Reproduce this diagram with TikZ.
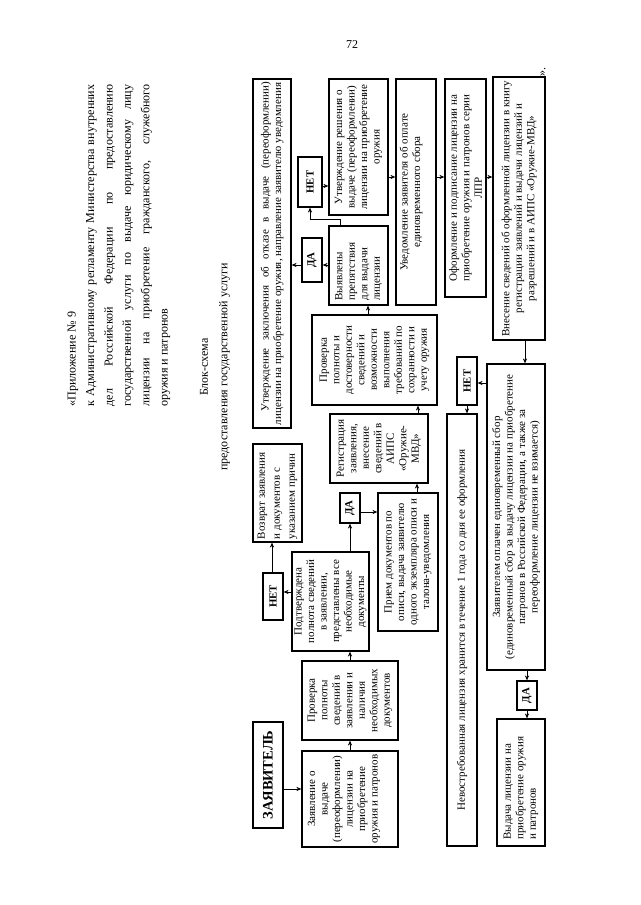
\documentclass[tikz,border=0pt]{standalone}
\usepackage{fontspec}
\setmainfont{Liberation Serif}
\usepackage{graphicx}
\usetikzlibrary{arrows.meta}
\newcommand{\rtc}[2]{\rotatebox{90}{\parbox{#1}{\centering #2}}}
\newcommand{\rtl}[2]{\rotatebox{90}{\parbox{#1}{\raggedright #2}}}
\tikzset{
  bx/.style={draw, line width=1.2pt, inner sep=0pt, font=\fontsize{11}{12.5}\selectfont},
  lbl/.style={draw, line width=1.2pt, inner sep=0pt, font=\bfseries\fontsize{10.8}{12}\selectfont},
  arr/.style={-{Stealth[length=5pt,width=4.2pt]}, line width=1pt},
}
\begin{document}
\begin{tikzpicture}[x=1pt,y=-1pt]
\useasboundingbox (0,0) rectangle (640,905);
\fill[white] (0,0) rectangle (640,905);

% page number and header
\node (pg) at (352,45) {\fontsize{12}{14}\selectfont 72};
\node[inner sep=0pt] (hdr) at (119,245.5) {\rotatebox{90}{\parbox{322pt}{\fontsize{12.1}{18.4}\selectfont
«Приложение № 9\\
к Административному регламенту Министерства внутренних\linebreak
дел Российской Федерации по предоставлению\linebreak
государственной услуги по выдаче юридическому лицу\linebreak
лицензии на приобретение гражданского, служебного\linebreak
оружия и патронов}}};
\node[inner sep=0pt] (ttl) at (215,367) {\rtc{260pt}{\fontsize{12}{19.5}\selectfont Блок-схема\\ предоставления государственной услуги}};
\node[inner sep=0pt] (qt) at (543,72) {\rotatebox{90}{\fontsize{12}{14}\selectfont ».}};

% boxes
\node[lbl, font=\bfseries\fontsize{14.5}{16}\selectfont, minimum width=30pt, minimum height=106pt] (zay) at (268,775) {\rotatebox{90}{ЗАЯВИТЕЛЬ}};
\node[bx, minimum width=96pt, minimum height=96pt] (zvl) at (350,799) {\rtc{92pt}{Заявление о\\ выдаче\\ (переоформлении)\\ лицензии на\\ приобретение\\ оружия и патронов}\hspace*{12pt}};
\node[bx, minimum width=96pt, minimum height=79pt] (pr1) at (350,700.5) {\rtc{77pt}{Проверка\\ полноты\\ сведений в\\ заявлении и\\ наличия\\ необходимых\\ документов}};
\node[bx, minimum width=77pt, minimum height=99pt] (pdt) at (330.5,601.5) {\rtc{97pt}{Подтверждена\\ полнота сведений\\ в заявлении,\\ представлены все\\ необходимые\\ документы}};
\node[lbl, minimum width=20pt, minimum height=47pt] (net1) at (273,596.5) {\rotatebox{90}{НЕТ}};
\node[bx, font=\fontsize{11}{15}\selectfont, minimum width=49pt, minimum height=98pt] (vzv) at (277.5,493) {\rtl{92pt}{Возврат заявления\\ и документов с\\ указанием причин}};
\node[lbl, minimum width=20pt, minimum height=30pt] (da1) at (350,508) {\rotatebox{90}{ДА}};
\node[bx, minimum width=60pt, minimum height=138pt] (prm) at (408,562) {\rtc{136pt}{Прием документов по\\ описи, выдача заявителю\\ одного экземпляра описи и\\ талона-уведомления}};
\node[bx, minimum width=98pt, minimum height=69pt] (reg) at (379,448.5) {\rtc{67pt}{Регистрация\\ заявления,\\ внесение\\ сведений в\\ АИПС\\ «Оружие-\\ МВД»}};
\node[bx, minimum width=125pt, minimum height=90pt] (pr2) at (374.5,360) {\rtc{88pt}{Проверка\\ полноты и\\ достоверности\\ сведений и\\ возможности\\ выполнения\\ требований по\\ сохранности и\\ учету оружия}};
\node[bx, minimum width=59pt, minimum height=79pt] (vyy) at (358.5,265.5) {\rtl{70pt}{Выявлены\\ препятствия\\ для выдачи\\ лицензии}};
\node[lbl, minimum width=20pt, minimum height=44pt] (da2) at (312,260) {\rotatebox{90}{ДА}};
\node[lbl, minimum width=24pt, minimum height=50pt] (net2) at (310,182) {\rotatebox{90}{НЕТ}};
\node[bx, minimum width=59pt, minimum height=136pt] (urs) at (358.5,147) {\rtc{134pt}{Утверждение решения о\\ выдаче (переоформлении)\\ лицензии на приобретение\\ оружия}};
\node[bx, minimum width=38pt, minimum height=349pt] (uzk) at (272,253.5) {\rotatebox{90}{\parbox{343pt}{\hspace*{14pt}Утверждение заключения об отказе в выдаче (переоформлении)\linebreak лицензии на приобретение оружия, направление заявителю уведомления}}};
\node[bx, minimum width=40pt, minimum height=226pt] (uvd) at (416,192) {\rtc{220pt}{Уведомление заявителя об оплате\\ единовременного сбора}\hspace*{10pt}};
\node[bx, minimum width=41pt, minimum height=218pt] (ofr) at (465.5,188) {\rtc{216pt}{Оформление и подписание лицензии на\\ приобретение оружия и патронов серии\\ ЛПР}};
\node[bx, minimum width=52pt, minimum height=263pt] (vns) at (519,208.5) {\rtc{261pt}{Внесение сведений об оформленной лицензии в книгу\\ регистрации заявлений и выдачи лицензий и\\ разрешений и в АИПС «Оружие-МВД»}};
\node[bx, minimum width=58pt, minimum height=306pt] (zpl) at (516,517) {\rtc{302pt}{Заявителем оплачен единовременный сбор\\ (единовременный сбор за выдачу лицензии на приобретение\\ патронов в Российской Федерации, а также за\\ переоформление лицензии не взимается)}};
\node[lbl, minimum width=20pt, minimum height=48pt] (net3) at (467,381) {\rotatebox{90}{НЕТ}};
\node[bx, minimum width=30pt, minimum height=432pt] (nvs) at (462,630) {\rtc{425pt}{Невостребованная лицензия хранится в течение 1 года со дня ее оформления}};
\node[lbl, minimum width=20pt, minimum height=29pt] (da3) at (527,695.5) {\rotatebox{90}{ДА}};
\node[bx, minimum width=48pt, minimum height=127pt] (vyd) at (521,782.5) {\rtl{114pt}{Выдача лицензии на\\ приобретение оружия\\ и патронов}};

% connectors
\draw[arr] (zay.east |- 0,789) -- (zvl.west |- 0,789);
\draw[arr] (zvl.north) -- (pr1.south);
\draw[arr] (pr1.north) -- (pr1.north |- pdt.south);
\draw[arr] (pdt.west |- 0,592) -- (net1.east |- 0,592);
\draw[arr] (net1.north -| 272,0) -- (vzv.south -| 272,0);
\draw[arr] (da1.south |- pdt.north) -- (da1.south);
\draw[arr] (da1.east |- 0,512) -- (prm.west |- 0,512);
\draw[arr] (prm.north -| 417,0) -- (reg.south -| 417,0);
\draw[arr] (reg.north -| 418,0) -- (pr2.south -| 418,0);
\draw[arr] (pr2.north -| 368,0) -- (vyy.south -| 368,0);
\draw[arr] (vyy.west |- 0,265) -- (da2.east |- 0,265);
\draw[arr] (da2.west |- 0,265) -- (uzk.east |- 0,265);
\draw[arr] (vyy.north -| 340,0) -- ++(0,-6) -| (net2.south);
\draw[arr] (net2.east |- 0,186) -- (urs.west |- 0,186);
\draw[arr] (urs.east |- 0,177) -- (uvd.west |- 0,177);
\draw[arr] (uvd.east |- 0,177) -- (ofr.west |- 0,177);
\draw[arr] (ofr.east |- 0,177) -- (vns.west |- 0,177);
\draw[arr] (vns.south -| 525,0) -- (zpl.north -| 525,0);
\draw[arr] (zpl.west |- 0,383) -- (net3.east |- 0,383);
\draw[arr] (net3.south) -- (net3.south |- nvs.north);
\draw[arr] (da3.north |- zpl.south) -- (da3.north);
\draw[arr] (da3.south) -- (da3.south |- vyd.north);
\end{tikzpicture}
\end{document}
